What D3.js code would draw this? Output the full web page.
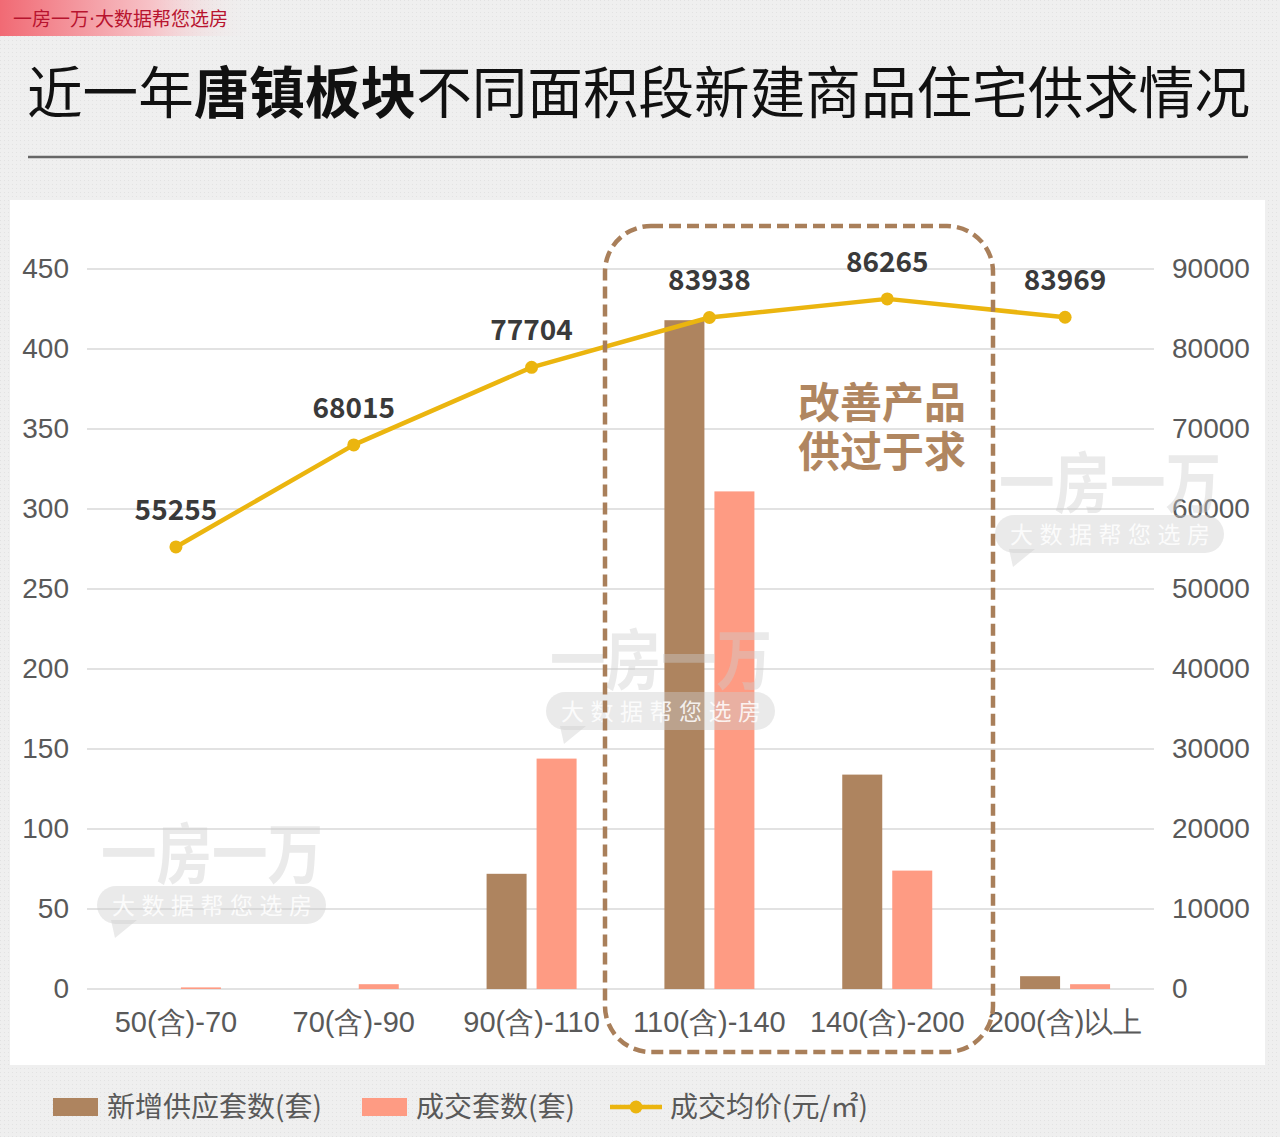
<html>
  <head>
    <meta charset="utf-8">
    <title>唐镇板块供求</title>
    <script src="https://cdn.jsdelivr.net/npm/d3@7"></script>
    <style>
     body { margin: 0; background: #eeeeee; }
     svg { display: block; font-family: "Noto Sans CJK SC", "Noto Sans", sans-serif; }
     .tick text { fill: #595959; font-size: 28px; }
     .xaxis .tick text { font-size: 29px; }
     .grid line { stroke: #d9d9d9; stroke-width: 1.5px; }
    </style>
  </head>
  <body>
    <svg id="chart" width="1280" height="1137"></svg>
    <script>
     var categories = ["50(含)-70", "70(含)-90", "90(含)-110", "110(含)-140", "140(含)-200", "200(含)以上"];
     var supply = [0, 0, 72, 418, 134, 8];
     var sales = [1, 3, 144, 311, 74, 3];
     var price = [55255, 68015, 77704, 83938, 86265, 83969];
     var leftTicks = [0, 50, 100, 150, 200, 250, 300, 350, 400, 450];
     var rightTicks = [0, 10000, 20000, 30000, 40000, 50000, 60000, 70000, 80000, 90000];
     var seriesNames = ["新增供应套数(套)", "成交套数(套)", "成交均价(元/㎡)"];

     var colors = { supply: "#ae845f", sales: "#fe9b83", line: "#ebb50f" };

     var svg = d3.select("#chart");

     // dotted background + top banner
     var defs = svg.append("defs");
     var pat = defs.append("pattern").attr("id", "dots")
                   .attr("width", 4).attr("height", 4)
                   .attr("patternUnits", "userSpaceOnUse");
     pat.append("rect").attr("width", 4).attr("height", 4).attr("fill", "#efefef");
     pat.append("rect").attr("width", 1).attr("height", 1).attr("fill", "#e2e2e2");
     svg.append("rect").attr("width", 1280).attr("height", 1137).attr("fill", "url(#dots)");

     var grad = defs.append("linearGradient").attr("id", "banner");
     grad.append("stop").attr("offset", "0%").attr("stop-color", "#f16a74");
     grad.append("stop").attr("offset", "60%").attr("stop-color", "#f7c3c8");
     grad.append("stop").attr("offset", "100%").attr("stop-color", "#efefef").attr("stop-opacity", 0);
     svg.append("rect").attr("x", 0).attr("y", 0).attr("width", 255).attr("height", 36)
        .attr("fill", "url(#banner)");
     var banner = svg.append("text").attr("x", 13).attr("y", 26)
                     .attr("font-size", 19).attr("fill", "#b8142f");
     banner.append("tspan").text("一房一万");
     banner.append("tspan").attr("font-family", "DejaVu Sans").text("·");
     banner.append("tspan").text("大数据帮您选房");

     // title
     var title = svg.append("text").attr("x", 27).attr("y", 113)
                    .attr("font-size", 55.6).attr("fill", "#111");
     title.append("tspan").text("近一年");
     title.append("tspan").attr("font-weight", "bold").text("唐镇板块");
     title.append("tspan").text("不同面积段新建商品住宅供求情况");
     svg.append("line").attr("x1", 28).attr("x2", 1248).attr("y1", 157).attr("y2", 157)
        .attr("stroke", "#666").attr("stroke-width", 2.5);

     // white panel
     svg.append("rect").attr("x", 10).attr("y", 200).attr("width", 1255).attr("height", 865)
        .attr("fill", "#fff");

     var x = d3.scaleBand().domain(categories).range([87, 1154]);
     var x1 = d3.scaleBand().domain(["supply", "sales"])
                .range([x.bandwidth() / 2 - 45, x.bandwidth() / 2 + 45])
                .paddingInner(0.2);
     var yL = d3.scaleLinear().domain([0, 450]).range([989, 269]);
     var yR = d3.scaleLinear().domain([0, 90000]).range([989, 269]);

     // gridlines
     svg.append("g").attr("class", "grid")
        .selectAll("line").data(leftTicks).join("line")
        .attr("x1", 87).attr("x2", 1154)
        .attr("y1", d => yL(d)).attr("y2", d => yL(d));

     // axes
     var axL = svg.append("g").attr("transform", "translate(69,0)")
                  .call(d3.axisLeft(yL).tickValues(leftTicks).tickSize(0).tickPadding(0));
     var axR = svg.append("g").attr("transform", "translate(1172,0)")
                  .call(d3.axisRight(yR).tickValues(rightTicks).tickFormat(d3.format("d"))
                                        .tickSize(0).tickPadding(0));
     var axB = svg.append("g").attr("class", "xaxis").attr("transform", "translate(0,989)")
                  .call(d3.axisBottom(x).tickSize(0).tickPadding(22));
     [axL, axR, axB].forEach(function(a) { a.select(".domain").remove(); });
     axB.selectAll("text").attr("dy", "0.72em");

     // bars
     var groups = svg.append("g").selectAll("g").data(categories).join("g")
                     .attr("transform", d => "translate(" + x(d) + ",0)");
     groups.append("rect")
           .attr("x", x1("supply")).attr("width", x1.bandwidth())
           .attr("y", (d, i) => yL(supply[i]))
           .attr("height", (d, i) => yL(0) - yL(supply[i]))
           .attr("fill", colors.supply);
     groups.append("rect")
           .attr("x", x1("sales")).attr("width", x1.bandwidth())
           .attr("y", (d, i) => yL(sales[i]))
           .attr("height", (d, i) => yL(0) - yL(sales[i]))
           .attr("fill", colors.sales);

     // watermarks (drawn over the bars)
     function watermark(bx, by) {
       var g = svg.append("g").attr("transform", "translate(" + bx + "," + by + ")");
       g.append("text").attr("x", 4).attr("y", -8)
        .attr("font-size", 66).attr("font-weight", "bold")
        .attr("textLength", 222).attr("lengthAdjust", "spacingAndGlyphs")
        .attr("fill", "rgba(205,205,205,0.42)").text("一房一万");
       g.append("rect").attr("width", 229).attr("height", 38).attr("rx", 19)
        .attr("fill", "rgba(205,205,205,0.42)");
       g.append("path").attr("d", "M14,34 L40,34 L18,52 Z")
        .attr("fill", "rgba(205,205,205,0.42)");
       g.append("text").attr("x", 15).attr("y", 28)
        .attr("font-size", 23).attr("textLength", 200)
        .attr("fill", "rgba(255,255,255,0.85)").text("大数据帮您选房");
     }
     watermark(97, 886);
     watermark(546, 692);
     watermark(995, 515);

     // price line
     var cx = d => x(d) + x.bandwidth() / 2;
     var line = d3.line().x((d, i) => cx(categories[i])).y(d => yR(d));
     svg.append("path").datum(price).attr("d", line)
        .attr("fill", "none").attr("stroke", colors.line).attr("stroke-width", 4.5)
        .attr("stroke-linejoin", "round");
     svg.append("g").selectAll("circle").data(price).join("circle")
        .attr("cx", (d, i) => cx(categories[i])).attr("cy", d => yR(d)).attr("r", 6.5)
        .attr("fill", colors.line);
     svg.append("g").selectAll("text").data(price).join("text")
        .attr("x", (d, i) => cx(categories[i])).attr("y", d => yR(d) - 27)
        .attr("text-anchor", "middle").attr("font-size", 28).attr("font-weight", "bold")
        .attr("fill", "#3a3a3a").text(d => d);

     // highlight box + note
     svg.append("rect").attr("x", 605).attr("y", 226).attr("width", 388).attr("height", 826)
        .attr("rx", 46).attr("fill", "none").attr("stroke", "#a97f5a")
        .attr("stroke-width", 4.5).attr("stroke-dasharray", "12,6");
     var note = svg.append("text").attr("x", 882).attr("text-anchor", "middle")
                   .attr("font-size", 42).attr("font-weight", "bold").attr("fill", "#b08660");
     note.append("tspan").attr("x", 882).attr("y", 418).text("改善产品");
     note.append("tspan").attr("x", 882).attr("y", 467).text("供过于求");

     // legend
     var legend = svg.append("g").attr("font-size", 28).attr("fill", "#595959");
     legend.append("rect").attr("x", 53).attr("y", 1098).attr("width", 45).attr("height", 18)
           .attr("fill", colors.supply);
     legend.append("text").attr("x", 107).attr("y", 1117).text(seriesNames[0]);
     legend.append("rect").attr("x", 362).attr("y", 1098).attr("width", 45).attr("height", 18)
           .attr("fill", colors.sales);
     legend.append("text").attr("x", 416).attr("y", 1117).text(seriesNames[1]);
     legend.append("line").attr("x1", 610).attr("x2", 662).attr("y1", 1107).attr("y2", 1107)
           .attr("stroke", colors.line).attr("stroke-width", 4.5);
     legend.append("circle").attr("cx", 636).attr("cy", 1107).attr("r", 6.5).attr("fill", colors.line);
     legend.append("text").attr("x", 670).attr("y", 1117).text(seriesNames[2]);
    </script>
  </body>
</html>
